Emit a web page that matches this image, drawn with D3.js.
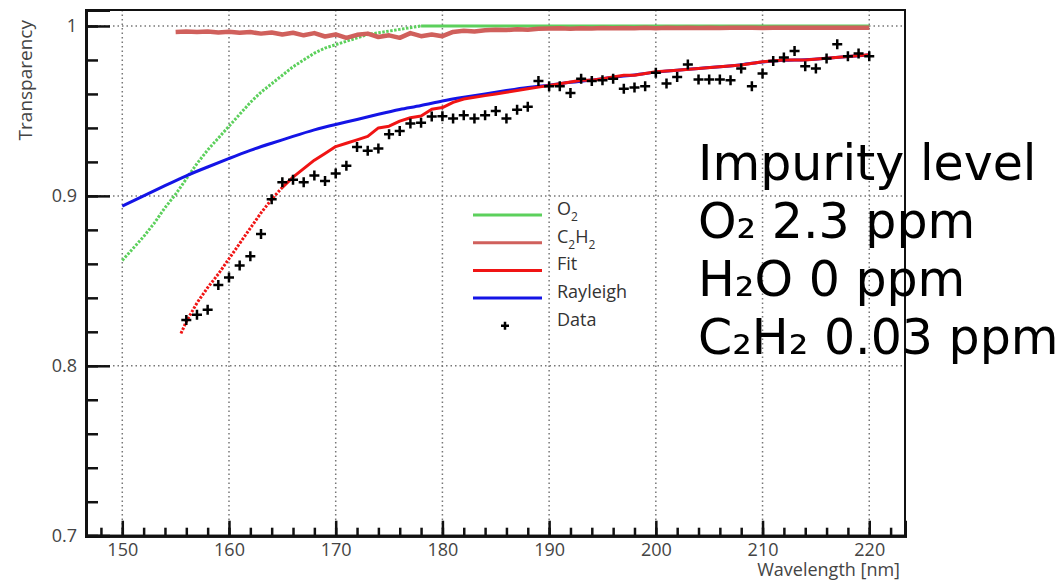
<!DOCTYPE html>
<html>
<head>
<meta charset="utf-8">
<script src="https://cdn.jsdelivr.net/npm/d3@7"></script>
<style>
  body { margin: 0; background: #fff; }
  svg { display: block; }
</style>
</head>
<body>
<div id="mount"></div>
<script>
'use strict';

// wavelength / transparency
const o2Wl = d3.range(150, 221);   // 1 nm steps
const o2T = [
  0.862, 0.869, 0.876, 0.884, 0.893, 0.901, 0.910, 0.919, 0.927, 0.934,
  0.941, 0.948, 0.955, 0.961, 0.966, 0.971, 0.976, 0.980, 0.984, 0.987,
  0.989, 0.991, 0.993, 0.995, 0.996, 0.997, 0.998, 0.999, 1.000, 1.000,
  1.000, 1.000, 1.000, 1.000, 1.000, 1.000, 1.000, 1.000, 1.000, 1.000,
  1.000, 1.000, 1.000, 1.000, 1.000, 1.000, 1.000, 1.000, 1.000, 1.000,
  1.000, 1.000, 1.000, 1.000, 1.000, 1.000, 1.000, 1.000, 1.000, 1.000,
  1.000, 1.000, 1.000, 1.000, 1.000, 1.000, 1.000, 1.000, 1.000, 1.000,
  1.000
];

const c2h2Wl = d3.range(155, 221);
const c2h2T = [
  0.9965, 0.9968, 0.9965, 0.9967, 0.9962, 0.9966, 0.9960, 0.9964, 0.9955, 0.9962,
  0.9950, 0.9960, 0.9945, 0.9958, 0.9938, 0.9950, 0.9930, 0.9948, 0.9955, 0.9935,
  0.9945, 0.9930, 0.9958, 0.9940, 0.9950, 0.9940, 0.9965, 0.9972, 0.9968, 0.9975,
  0.9978, 0.9976, 0.9980, 0.9978, 0.9983, 0.9985, 0.9986, 0.9984, 0.9987, 0.9985,
  0.9988, 0.9986, 0.9988, 0.9987, 0.9989, 0.9987, 0.9989, 0.9988, 0.9990, 0.9988,
  0.9989, 0.9988, 0.9990, 0.9989, 0.9990, 0.9988, 0.9990, 0.9989, 0.9990, 0.9989,
  0.9990, 0.9989, 0.9990, 0.9990, 0.9990, 0.9990
];

const fitWl = [155.5, 156, 157, 158, 159, 160, 161, 162, 163, 164,
  165, 166, 167, 168, 169, 170, 171, 172, 173, 174,
  175, 176, 177, 178, 179, 180, 181, 182, 183, 184,
  185, 186, 187, 188, 189, 190, 191, 192, 193, 194,
  195, 196, 197, 198, 199, 200, 202, 204, 206, 208,
  210, 212, 214, 216, 218, 220];
const fitT = [0.819, 0.826, 0.837, 0.846, 0.854, 0.863, 0.872, 0.881, 0.890, 0.898,
  0.905, 0.911, 0.916, 0.921, 0.925, 0.929, 0.931, 0.933, 0.935, 0.940,
  0.941, 0.944, 0.946, 0.947, 0.951, 0.952, 0.955, 0.957, 0.958, 0.959,
  0.960, 0.961, 0.962, 0.963, 0.964, 0.965, 0.966, 0.967, 0.968, 0.968,
  0.969, 0.970, 0.971, 0.971, 0.972, 0.973, 0.974, 0.975, 0.976, 0.977,
  0.979, 0.980, 0.980, 0.981, 0.982, 0.983];

const rayWl = d3.range(150, 221, 2);
const rayT = [0.894, 0.900, 0.906, 0.912, 0.917, 0.922, 0.927, 0.931, 0.935, 0.939,
  0.942, 0.945, 0.948, 0.951, 0.953, 0.956, 0.958, 0.960, 0.962, 0.964,
  0.965, 0.967, 0.968, 0.970, 0.971, 0.973, 0.974, 0.975, 0.976, 0.977,
  0.979, 0.980, 0.980, 0.981, 0.982, 0.983];

const dataWl = d3.range(156, 221);
const dataT = [
  0.827, 0.830, 0.833, 0.8475, 0.852, 0.859, 0.8645, 0.8775, 0.898, 0.908,
  0.9095, 0.908, 0.912, 0.9088, 0.9132, 0.9177, 0.9288, 0.9265, 0.9279, 0.9363,
  0.9382, 0.9426, 0.943, 0.9467, 0.9469, 0.9455, 0.9475, 0.9455, 0.9475, 0.950,
  0.9455, 0.9507, 0.9524, 0.9676, 0.9645, 0.9645, 0.9606, 0.969, 0.9676, 0.968,
  0.969, 0.963, 0.9638, 0.9645, 0.9724, 0.9661, 0.970, 0.9773, 0.9685, 0.9685,
  0.9685, 0.968, 0.9749, 0.9645, 0.972, 0.9794, 0.9814, 0.9853, 0.9763, 0.9749,
  0.9808, 0.9892, 0.9822, 0.9838, 0.9822
];

const xMajor = [150, 160, 170, 180, 190, 200, 210, 220];
const xMinor = d3.range(148, 223, 2);
const yMajor = [0.7, 0.8, 0.9, 1.0];
const yMinor = d3.range(0.72, 1.001, 0.02);

const legendLabels = [['O', '2'], ['C', '2', 'H', '2'], ['Fit'], ['Rayleigh'], ['Data']];
const impurityLines = ['Impurity level', 'O\u2082 2.3 ppm', 'H\u2082O 0 ppm', 'C\u2082H\u2082 0.03 ppm'];

const colors = { o2: '#5cd05c', c2h2: '#d0605c', fit: '#f01414', ray: '#1414e6', data: '#000' };

// plot frame in page pixels
const W = 1063, H = 580;
const frame = { left: 86, right: 905, top: 10, bottom: 535.7 };

const svg = d3.select('#mount').append('svg')
    .attr('width', W)
    .attr('height', H)
    .style('font-family', '"Open Sans", sans-serif');

const x = d3.scaleLinear().domain([146.6, 223.35]).range([frame.left, frame.right]);
const y = d3.scaleLinear().domain([0.7, 1.0094]).range([frame.bottom, frame.top]);

const zip = (a, b) => a.map((v, i) => [v, b[i]]);

// grid
const grid = svg.append('g')
    .attr('stroke', '#777')
    .attr('stroke-width', 1.5)
    .attr('stroke-dasharray', '1.5,3');
grid.selectAll('line.v').data(xMajor).join('line')
    .attr('x1', d => x(d)).attr('x2', d => x(d))
    .attr('y1', frame.top).attr('y2', frame.bottom);
grid.selectAll('line.h').data(yMajor.slice(1)).join('line')
    .attr('x1', frame.left).attr('x2', frame.right)
    .attr('y1', d => y(d)).attr('y2', d => y(d));

// frame (top / right thin)
svg.append('path')
    .attr('d', `M${frame.left},${frame.top}H${frame.right}V${frame.bottom}`)
    .attr('fill', 'none')
    .attr('stroke', '#111')
    .attr('stroke-width', 2);

// axes
const yMinorAxis = svg.append('g')
    .attr('transform', `translate(${frame.left},0)`)
    .call(d3.axisLeft(y).tickValues(yMinor).tickSize(-12).tickFormat(''));
const yAxis = svg.append('g')
    .attr('transform', `translate(${frame.left},0)`)
    .call(d3.axisLeft(y).tickValues(yMajor).tickSize(-24).tickPadding(9)
      .tickFormat(d => d === 1 ? '1' : d3.format('.1f')(d)));
const xMinorAxis = svg.append('g')
    .attr('transform', `translate(0,${frame.bottom})`)
    .call(d3.axisBottom(x).tickValues(xMinor).tickSize(-8).tickFormat(''));
const xAxis = svg.append('g')
    .attr('transform', `translate(0,${frame.bottom})`)
    .call(d3.axisBottom(x).tickValues(xMajor).tickSize(-15).tickPadding(8));

[yMinorAxis, yAxis, xMinorAxis, xAxis].forEach(g => {
  g.selectAll('line').attr('stroke', '#111').attr('stroke-width', 2.5);
  g.select('.domain').attr('stroke', '#111').attr('stroke-width', 3);
  g.selectAll('text').attr('fill', '#444').style('font-size', '18px')
      .style('font-family', '"Open Sans", sans-serif');
});

svg.append('text')
    .attr('transform', 'translate(32,20) rotate(-90)')
    .attr('text-anchor', 'end')
    .attr('fill', '#444')
    .style('font-size', '19px')
    .text('Transparency');

svg.append('text')
    .attr('x', 900)
    .attr('y', 576)
    .attr('text-anchor', 'end')
    .attr('fill', '#444')
    .style('font-size', '18px')
    .text('Wavelength [nm]');

// curves
const line = d3.line().x(d => x(d[0])).y(d => y(d[1]));
const curve = svg.append('g').attr('fill', 'none').attr('stroke-linejoin', 'round');

const o2 = zip(o2Wl, o2T);
curve.append('path')
    .attr('d', line(o2.filter(d => d[0] <= 178)))
    .attr('stroke', colors.o2).attr('stroke-width', 3)
    .attr('stroke-dasharray', '2.5,1.5');
curve.append('path')
    .attr('d', line(o2.filter(d => d[0] >= 178)))
    .attr('stroke', colors.o2).attr('stroke-width', 3);

curve.append('path')
    .attr('d', line(zip(c2h2Wl, c2h2T)))
    .attr('stroke', colors.c2h2).attr('stroke-width', 4.5);

curve.append('path')
    .attr('d', line.curve(d3.curveBasis)(zip(rayWl, rayT)))
    .attr('stroke', colors.ray).attr('stroke-width', 3);
line.curve(d3.curveLinear);

const fit = zip(fitWl, fitT);
curve.append('path')
    .attr('d', line(fit.filter(d => d[0] <= 165)))
    .attr('stroke', colors.fit).attr('stroke-width', 3)
    .attr('stroke-dasharray', '2.5,1.5');
curve.append('path')
    .attr('d', line(fit.filter(d => d[0] >= 165)))
    .attr('stroke', colors.fit).attr('stroke-width', 3);

const plus = 'M-5,0H5M0,-5V5';
svg.append('g').selectAll('path').data(zip(dataWl, dataT)).join('path')
    .attr('transform', d => `translate(${x(d[0])},${y(d[1])})`)
    .attr('d', plus)
    .attr('stroke', colors.data)
    .attr('stroke-width', 2.5);

// legend
const legendKeys = ['o2', 'c2h2', 'fit', 'ray', 'data'];
const legend = svg.append('g').attr('transform', 'translate(473,215)');
const rows = legend.selectAll('g').data(legendKeys).join('g')
    .attr('transform', (d, i) => `translate(0,${i * 27.7})`);
rows.filter(d => d !== 'data').append('line')
    .attr('x1', 0).attr('x2', 69)
    .attr('stroke', d => colors[d])
    .attr('stroke-width', 3);
rows.filter(d => d === 'data').append('path')
    .attr('transform', 'translate(32,0)')
    .attr('d', 'M-4,0H4M0,-4V4')
    .attr('stroke', '#000')
    .attr('stroke-width', 2.5);
const labels = rows.append('text')
    .attr('x', 84)
    .attr('dy', '0.35em')
    .attr('fill', '#333')
    .style('font-size', '18px');
labels.each(function(d, i) {
  const parts = legendLabels[i];
  const t = d3.select(this);
  parts.forEach((p, j) => {
    const sub = parts.length > 1 && j % 2 === 1;
    t.append('tspan')
        .attr('dy', sub ? 6 : (j > 0 ? -6 : 0))
        .style('font-size', sub ? '12px' : '18px')
        .text(p);
  });
});

// impurity text
svg.append('g').selectAll('text').data(impurityLines).join('text')
    .attr('x', 698)
    .attr('y', (d, i) => 180 + i * 58)
    .attr('fill', '#000')
    .style('font-family', '"DejaVu Sans", Verdana, sans-serif')
    .style('font-size', '49px')
    .text(d => d);
</script>
</body>
</html>
